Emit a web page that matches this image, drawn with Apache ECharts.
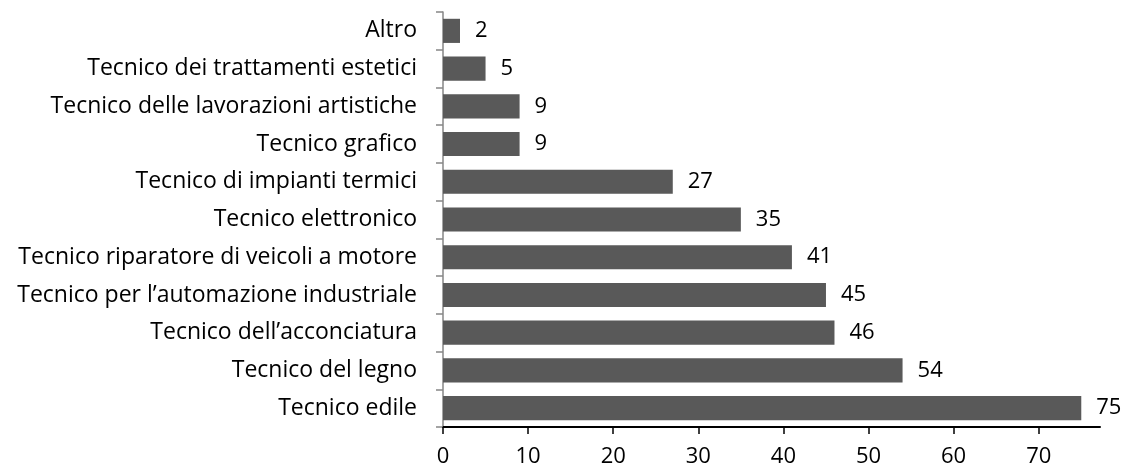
<!DOCTYPE html>
<html>
<head>
<meta charset="utf-8">
<script src="https://cdn.jsdelivr.net/npm/echarts@6/dist/echarts.min.js"></script>
<style>html,body{margin:0;padding:0;background:#fff}#c{width:1128px;height:472px}</style>
</head>
<body>
<div id="c"></div>
<script>
const categories = [
  "Altro",
  "Tecnico dei trattamenti estetici",
  "Tecnico delle lavorazioni artistiche",
  "Tecnico grafico",
  "Tecnico di impianti termici",
  "Tecnico elettronico",
  "Tecnico riparatore di veicoli a motore",
  "Tecnico per l\u2019automazione industriale",
  "Tecnico dell\u2019acconciatura",
  "Tecnico del legno",
  "Tecnico edile"
];
const values = [2, 5, 9, 9, 27, 35, 41, 45, 46, 54, 75];
const xTicks = [0, 10, 20, 30, 40, 50, 60, 70];

const FONT = '"Open Sans"';
const chart = echarts.init(document.getElementById('c'), null, {renderer: 'canvas'});
chart.setOption({
  animation: false,
  backgroundColor: '#ffffff',
  grid: {left: 443, top: 12, right: 28, bottom: 45, containLabel: false},
  xAxis: {
    type: 'value',
    min: 0,
    max: 77.2,
    axisLine: {show: true, lineStyle: {color: '#000', width: 2}},
    axisTick: {show: true, length: 7, customValues: xTicks, lineStyle: {color: '#000', width: 1.5}},
    axisLabel: {customValues: xTicks, color: '#000', fontFamily: FONT, fontSize: 22, margin: 19},
    splitLine: {show: false}
  },
  yAxis: {
    type: 'category',
    data: categories,
    inverse: true,
    axisLine: {show: true, lineStyle: {color: '#868686', width: 1.5}},
    axisTick: {show: true, length: 7, lineStyle: {color: '#868686', width: 1.5}},
    axisLabel: {color: '#000', fontFamily: FONT, fontSize: 23, margin: 26}
  },
  series: [{
    type: 'bar',
    data: values,
    barCategoryGap: '36%',
    itemStyle: {color: '#595959'},
    label: {show: true, position: 'right', distance: 15, color: '#000', fontFamily: FONT, fontSize: 22}
  }]
});
</script>
</body>
</html>
